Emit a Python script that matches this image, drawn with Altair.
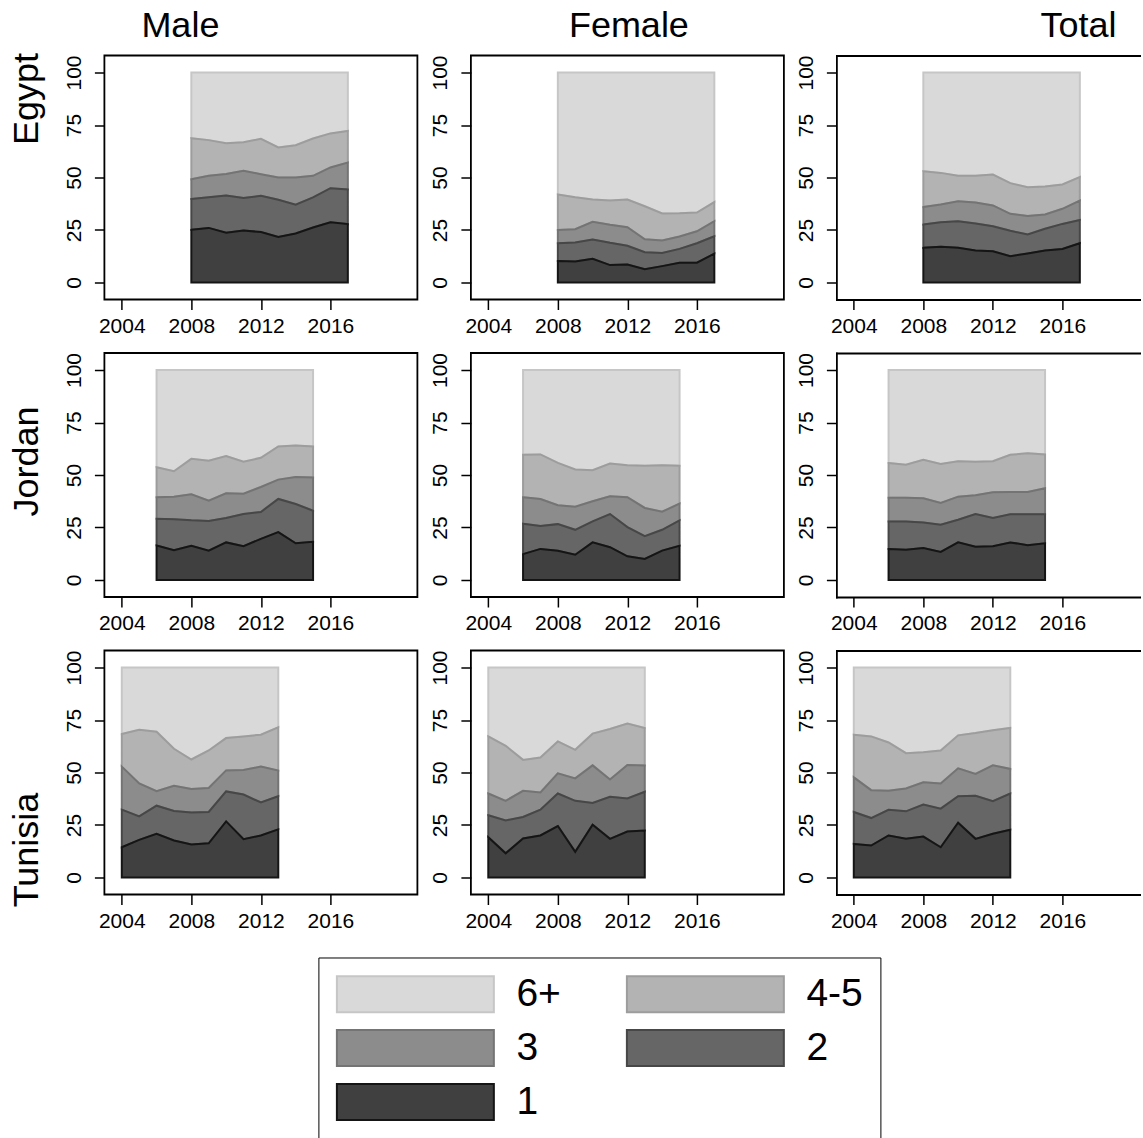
import altair as alt
import pandas as pd

FONT = "Liberation Sans"

CATS = ["6+", "4-5", "3", "2", "1"]
FILLS = ["#d9d9d9", "#b3b3b3", "#8c8c8c", "#666666", "#404040"]
STROKES = ["#c6c6c6", "#9d9d9d", "#747474", "#474747", "#151515"]

COUNTRIES = ["Egypt", "Jordan", "Tunisia"]
SEXES = ["Male", "Female", "Total"]

EGYPT_YEARS = [2008, 2009, 2010, 2011, 2012, 2013, 2014, 2015, 2016, 2017]
JORDAN_YEARS = [2006, 2007, 2008, 2009, 2010, 2011, 2012, 2013, 2014, 2015]
TUNISIA_YEARS = [2004, 2005, 2006, 2007, 2008, 2009, 2010, 2011, 2012, 2013]

# cumulative upper bounds (%) of household-size groups 1, 2, 3 and 4-5 (6+ reaches 100)
EGYPT_MALE_1 = [25.1, 26.0, 23.7, 24.8, 24.0, 21.7, 23.3, 26.2, 28.7, 27.8]
EGYPT_MALE_2 = [39.8, 40.6, 41.4, 40.2, 41.3, 39.4, 37.1, 40.5, 44.9, 44.3]
EGYPT_MALE_3 = [49.2, 50.8, 51.7, 53.2, 51.6, 50.0, 50.0, 50.8, 54.8, 57.1]
EGYPT_MALE_45 = [68.7, 67.8, 66.3, 66.8, 68.4, 64.3, 65.4, 68.6, 71.0, 72.2]

EGYPT_FEMALE_1 = [10.2, 10.0, 11.3, 8.3, 8.6, 6.3, 7.8, 9.4, 9.4, 13.7]
EGYPT_FEMALE_2 = [18.7, 19.0, 20.5, 18.9, 17.5, 14.4, 14.0, 16.0, 18.7, 22.0]
EGYPT_FEMALE_3 = [25.0, 25.4, 28.9, 27.5, 26.3, 20.6, 20.0, 21.9, 24.4, 29.2]
EGYPT_FEMALE_45 = [41.9, 40.6, 39.5, 39.0, 39.5, 36.3, 32.9, 33.0, 33.3, 38.3]

EGYPT_TOTAL_1 = [16.5, 17.0, 16.5, 15.2, 14.9, 12.5, 13.8, 15.2, 16.0, 18.7]
EGYPT_TOTAL_2 = [27.6, 28.7, 29.2, 28.1, 26.8, 24.6, 22.9, 25.6, 27.9, 29.8]
EGYPT_TOTAL_3 = [35.9, 37.1, 38.7, 38.1, 36.7, 32.7, 31.7, 32.4, 35.1, 39.0]
EGYPT_TOTAL_45 = [53.0, 52.2, 50.8, 50.8, 51.4, 47.3, 45.4, 45.7, 46.7, 50.2]

JORDAN_MALE_1 = [16.4, 14.2, 16.3, 14.0, 17.9, 16.1, 19.6, 22.8, 17.5, 18.2]
JORDAN_MALE_2 = [29.2, 28.9, 28.4, 28.1, 29.5, 31.4, 32.4, 38.6, 36.2, 33.0]
JORDAN_MALE_3 = [39.4, 39.6, 40.8, 37.8, 41.3, 41.1, 44.3, 47.8, 49.0, 48.8]
JORDAN_MALE_45 = [53.7, 51.8, 57.7, 56.8, 59.0, 56.3, 58.2, 63.6, 64.1, 63.6]

JORDAN_FEMALE_1 = [12.3, 14.8, 13.9, 12.0, 17.9, 15.6, 11.3, 10.0, 14.0, 16.3]
JORDAN_FEMALE_2 = [26.8, 25.7, 26.6, 23.9, 27.9, 31.4, 25.2, 20.9, 23.9, 28.4]
JORDAN_FEMALE_3 = [39.4, 38.6, 35.6, 34.9, 37.5, 39.9, 39.4, 34.3, 32.5, 36.4]
JORDAN_FEMALE_45 = [59.6, 59.8, 55.8, 52.6, 52.3, 55.5, 54.7, 54.4, 54.7, 54.4]

JORDAN_TOTAL_1 = [14.7, 14.4, 15.2, 13.4, 17.9, 15.8, 16.1, 17.9, 16.6, 17.5]
JORDAN_TOTAL_2 = [27.9, 27.8, 27.4, 26.3, 28.7, 31.4, 29.5, 31.3, 31.3, 31.3]
JORDAN_TOTAL_3 = [39.2, 39.2, 38.9, 36.7, 39.7, 40.4, 41.8, 41.9, 41.9, 43.7]
JORDAN_TOTAL_45 = [55.7, 54.9, 57.3, 55.2, 56.6, 56.3, 56.6, 59.6, 60.3, 59.8]

TUNISIA_MALE_1 = [14.4, 17.9, 20.8, 17.6, 15.7, 16.3, 26.7, 18.2, 20.0, 22.9]
TUNISIA_MALE_2 = [32.3, 29.1, 34.2, 31.7, 30.9, 31.2, 41.0, 39.5, 35.7, 38.7]
TUNISIA_MALE_3 = [52.8, 44.8, 41.1, 43.7, 42.2, 42.6, 51.0, 51.2, 52.8, 50.9]
TUNISIA_MALE_45 = [68.3, 70.4, 69.4, 61.3, 56.2, 60.5, 66.4, 67.2, 68.0, 71.5]

TUNISIA_FEMALE_1 = [19.2, 11.5, 18.6, 20.0, 24.5, 12.2, 25.1, 18.4, 21.9, 22.4]
TUNISIA_FEMALE_2 = [29.6, 27.2, 28.8, 32.3, 40.0, 36.5, 35.5, 38.4, 37.6, 40.8]
TUNISIA_FEMALE_3 = [40.0, 36.5, 41.3, 40.5, 49.6, 47.2, 53.4, 46.7, 53.6, 53.3]
TUNISIA_FEMALE_45 = [67.2, 62.7, 56.0, 57.1, 64.8, 60.8, 68.5, 70.7, 73.3, 71.2]

TUNISIA_TOTAL_1 = [16.0, 15.2, 20.0, 18.4, 19.5, 14.4, 26.1, 18.4, 20.8, 22.7]
TUNISIA_TOTAL_2 = [31.2, 28.3, 32.2, 31.5, 34.7, 32.8, 38.7, 38.9, 36.3, 40.0]
TUNISIA_TOTAL_3 = [47.7, 41.6, 41.3, 42.4, 45.3, 44.8, 52.0, 49.3, 53.4, 51.7]
TUNISIA_TOTAL_45 = [68.0, 67.2, 64.3, 59.2, 59.7, 60.5, 67.7, 68.8, 70.1, 71.2]

X_TICKS = [2004, 2008, 2012, 2016]
Y_TICKS = [0, 25, 50, 75, 100]

PANELS = {
    ("Egypt", "Male"): (EGYPT_YEARS, EGYPT_MALE_1, EGYPT_MALE_2, EGYPT_MALE_3, EGYPT_MALE_45),
    ("Egypt", "Female"): (EGYPT_YEARS, EGYPT_FEMALE_1, EGYPT_FEMALE_2, EGYPT_FEMALE_3, EGYPT_FEMALE_45),
    ("Egypt", "Total"): (EGYPT_YEARS, EGYPT_TOTAL_1, EGYPT_TOTAL_2, EGYPT_TOTAL_3, EGYPT_TOTAL_45),
    ("Jordan", "Male"): (JORDAN_YEARS, JORDAN_MALE_1, JORDAN_MALE_2, JORDAN_MALE_3, JORDAN_MALE_45),
    ("Jordan", "Female"): (JORDAN_YEARS, JORDAN_FEMALE_1, JORDAN_FEMALE_2, JORDAN_FEMALE_3, JORDAN_FEMALE_45),
    ("Jordan", "Total"): (JORDAN_YEARS, JORDAN_TOTAL_1, JORDAN_TOTAL_2, JORDAN_TOTAL_3, JORDAN_TOTAL_45),
    ("Tunisia", "Male"): (TUNISIA_YEARS, TUNISIA_MALE_1, TUNISIA_MALE_2, TUNISIA_MALE_3, TUNISIA_MALE_45),
    ("Tunisia", "Female"): (TUNISIA_YEARS, TUNISIA_FEMALE_1, TUNISIA_FEMALE_2, TUNISIA_FEMALE_3, TUNISIA_FEMALE_45),
    ("Tunisia", "Total"): (TUNISIA_YEARS, TUNISIA_TOTAL_1, TUNISIA_TOTAL_2, TUNISIA_TOTAL_3, TUNISIA_TOTAL_45),
}

rows = []
for (country, sex), (years, c1, c2, c3, c45) in PANELS.items():
    for i, yr in enumerate(years):
        bounds = [0.0, c1[i], c2[i], c3[i], c45[i], 100.0]
        for cat, lo, hi in zip(["1", "2", "3", "4-5", "6+"], bounds[:-1], bounds[1:]):
            rows.append({"country": country, "sex": sex, "year": yr,
                         "cat": cat, "lo": lo, "hi": hi})
df = pd.DataFrame(rows)

PANEL_W, PANEL_H = 313, 244
X_MIN, X_MAX = 2003, 2021
# the right-hand column is cut by the page edge, as in the original picture
LAST_W = 305
LAST_X_MAX = X_MIN + (X_MAX - X_MIN) * LAST_W / PANEL_W

y_scale = alt.Scale(domain=[-8.1, 108.1], nice=False, zero=False)

# wide legend swatch: 157 x 36 px (symbol scale = sqrt(size)/2 = 18 px per unit)
LEGEND_PATH = "M-1,-1H7.72V1H-1Z"
legend = alt.Legend(
    orient="none", legendX=214, legendY=902, columns=2, direction="horizontal",
    title=None, symbolType=LEGEND_PATH, symbolSize=36 * 36, symbolStrokeWidth=2,
    symbolOpacity=1, labelFontSize=39, labelFont=FONT, labelColor="black",
    labelOffset=142, padding=17, rowPadding=9, columnPadding=61,
    strokeColor="black", fillColor="white",
)
fill_scale = alt.Scale(domain=CATS, range=FILLS)
stroke_scale = alt.Scale(domain=CATS, range=STROKES)

ROW_TITLE_Y = {"Egypt": 43, "Jordan": 108, "Tunisia": 199}
COL_TITLE_DX = {"Male": 37, "Female": 98, "Total": 204}
COL_TITLE_OFFSET = {"Male": -20.5, "Female": -18, "Total": -18}
FRAME_W = 1.8


def panel(country, sex, ci, ri):
    last = ci == 2
    x_scale = alt.Scale(domain=[X_MIN, LAST_X_MAX if last else X_MAX], nice=False, zero=False)
    frame = dict(domain=True, domainColor="black", domainWidth=FRAME_W, domainCap="square") if last else {}
    if ci == 0:
        y_axis = alt.Axis(
            values=Y_TICKS, title=country, titleFontSize=36, titleFont=FONT,
            titleFontWeight="normal", titleColor="black", titleAngle=270,
            titleAlign="center", titleBaseline="alphabetic",
            titleX=-67, titleY=ROW_TITLE_Y[country],
        )
    else:
        y_axis = alt.Axis(values=Y_TICKS, title=None, **frame)
    x_axis = alt.Axis(values=X_TICKS, format="d", title=None, **frame)
    base = alt.Chart(df).transform_filter(
        (alt.datum.country == country) & (alt.datum.sex == sex)
    )
    layers = []
    for cat in CATS:
        layers.append(
            base.transform_filter(alt.datum.cat == cat)
            .mark_area(opacity=1, strokeWidth=2, interpolate="linear")
            .encode(
                x=alt.X("year:Q", scale=x_scale, axis=x_axis),
                y=alt.Y("hi:Q", scale=y_scale, axis=y_axis),
                y2="lo:Q",
                fill=alt.Fill("cat:N", scale=fill_scale, legend=legend),
                stroke=alt.Stroke("cat:N", scale=stroke_scale, legend=legend),
            )
        )
    ch = alt.layer(*layers)
    if last:
        # top edge of the frame (the right edge lies beyond the page)
        top_edge = base.mark_point(opacity=0).encode(
            x=alt.X("year:Q", scale=x_scale,
                    axis=alt.Axis(orient="top", labels=False, ticks=False, title=None, **frame)),
            y=alt.Y("hi:Q", scale=y_scale, axis=y_axis),
        )
        ch = alt.layer(ch, top_edge).resolve_axis(x="independent").properties(
            view=alt.ViewBackground(stroke="transparent", strokeWidth=0)
        )
    ch = ch.properties(width=LAST_W if last else PANEL_W, height=PANEL_H)
    if ri == 0:
        ch = ch.properties(
            title=alt.Title(
                sex, anchor="start", frame="group", dx=COL_TITLE_DX[sex],
                fontSize=36, font=FONT, fontWeight="normal", color="black",
                baseline="alphabetic", offset=COL_TITLE_OFFSET[sex],
            )
        )
    return ch


grid_rows = []
for ri, country in enumerate(COUNTRIES):
    grid_rows.append(
        alt.hconcat(*[panel(country, sex, ci, ri) for ci, sex in enumerate(SEXES)], spacing=10.5)
    )

chart = (
    alt.vconcat(*grid_rows, spacing=13.5)
    .resolve_scale(fill="shared", stroke="shared")
    .configure_view(stroke="black", strokeWidth=FRAME_W)
    .configure_axis(
        domain=False, grid=False, tickColor="black", tickWidth=1.5, tickSize=10,
        labelFont=FONT, labelFontSize=21, labelColor="black",
    )
    .configure_axisY(labelAngle=270, labelAlign="center", labelBaseline="bottom", labelPadding=10)
    .configure_axisX(labelPadding=6)
    .properties(padding={"left": 7.4, "top": 6.5, "right": 0, "bottom": 0}, background="white")
)

chart.save("out.html", embed_options={"renderer": "svg", "actions": False})
